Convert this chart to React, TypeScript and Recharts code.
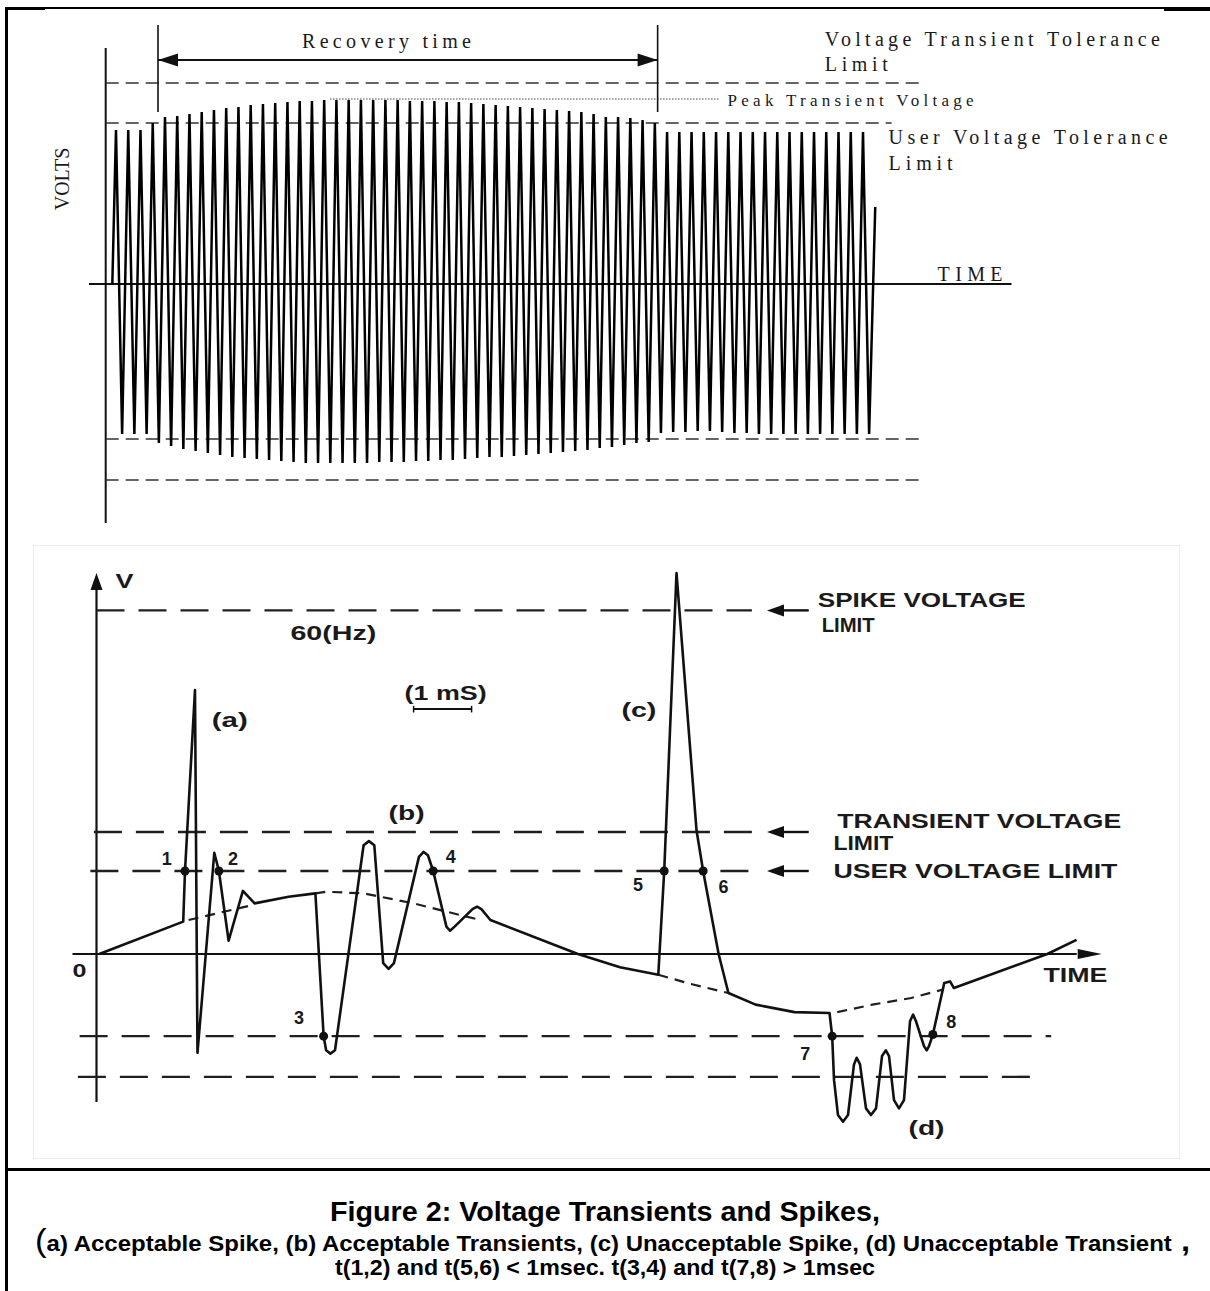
import React from 'react';
import { LineChart, Line, XAxis, YAxis, ReferenceLine, ReferenceDot } from 'recharts';

// ---------- upper sketch: supply waveform riding through a transient ----------
// volts are relative units (0 = time axis), time is counted in supply cycles
const peakVolts = [
  154, 154, 154, 161, 167, 168, 170, 172, 174, 176, 177, 179, 180, 181, 182, 183,
  183, 184, 184, 184, 184, 184, 184, 184, 183, 183, 183, 182, 182, 181, 180, 179,
  178, 177, 176, 175, 174, 173, 172, 170, 167, 167, 166, 164, 161, 152, 152, 152,
  152, 152, 152, 152, 152, 152, 152, 152, 152, 152, 152, 152, 152, 152,
];
const troughVolts = [
  -150, -150, -150, -159, -162, -165, -167, -169, -171, -173, -174, -175, -176, -177, -178, -179,
  -179, -179, -179, -179, -179, -178, -178, -178, -177, -177, -176, -176, -175, -174, -173, -173,
  -172, -171, -170, -169, -168, -167, -166, -164, -163, -161, -159, -158, -149, -148, -148, -147,
  -147, -148, -149, -149, -150, -150, -150, -150, -150, -150, -150, -150, -150, -150,
];
const waveStart = { t: -0.3, v: 0 };
const waveEnd = { t: 62.0, v: 77 };
const topLevels = { transient: 201, peak: 185, user: 161, lowUser: -155, lowTransient: -196 };
const recoveryCycles = [3.43, 44.23];

// ---------- lower sketch: spikes and transients ----------
// volts relative to the user voltage limit (= 1), time in ms
const trace: [number, number][] = [
  [0.048, 0], [1.495, 0.39], [1.526, 1.0], [1.698, 3.18], [1.741, -1.19], [2.031, 1.22], [2.11, 1.0],
  [2.278, 0.16], [2.524, 0.76], [2.726, 0.61], [3.312, 0.69], [3.774, 0.73], [3.916, -0.99],
  [3.959, -1.16], [4.033, -1.2], [4.112, -1.16], [4.605, 1.31], [4.697, 1.36], [4.79, 1.31],
  [4.943, -0.11], [5.036, -0.18], [5.128, -0.11], [5.559, 1.17], [5.64, 1.23], [5.714, 1.19],
  [5.805, 1.0], [6.033, 0.33], [6.095, 0.28], [6.174, 0.33], [6.483, 0.54], [6.562, 0.57],
  [6.636, 0.54], [6.791, 0.41], [8.3, 0], [9.026, -0.16], [9.686, -0.25], [9.788, 1.0],
  [10.0, 4.59], [10.345, 1.49], [10.459, 1.0], [10.726, 0], [10.895, -0.47], [11.364, -0.61],
  [12.034, -0.7], [12.638, -0.71], [12.684, -0.99], [12.716, -1.52], [12.784, -1.94], [12.871, -2.02],
  [12.957, -1.94], [13.06, -1.33], [13.107, -1.25], [13.164, -1.33], [13.267, -1.86], [13.353, -1.94],
  [13.44, -1.86], [13.543, -1.23], [13.61, -1.16], [13.664, -1.23], [13.75, -1.76], [13.836, -1.86],
  [13.922, -1.76], [14.026, -0.81], [14.079, -0.73], [14.129, -0.81], [14.267, -1.11], [14.314, -1.16],
  [14.353, -1.11], [14.42, -0.97], [14.616, -0.35], [14.716, -0.33], [14.783, -0.41], [16.393, 0],
  [16.897, 0.17],
];
const baselineA: [number, number][] = [[1.588, 0.41], [2.326, 0.53], [2.697, 0.59]];
const baselineB: [number, number][] = [[3.774, 0.73], [3.959, 0.75], [4.605, 0.73], [5.467, 0.61], [6.267, 0.47], [6.56, 0.42]];
const baselineC: [number, number][] = [[9.686, -0.25], [10.24, -0.36], [10.895, -0.47]];
const baselineD: [number, number][] = [[12.772, -0.7], [13.376, -0.61], [14.047, -0.53], [14.583, -0.43]];
const crossings: [number, number][] = [
  [1.526, 1.0], [2.11, 1.0], [3.916, -0.99], [5.805, 1.0], [9.788, 1.0], [10.459, 1.0], [12.684, -0.99], [14.42, -0.97],
];
const botLevels = { spike: 4.14, transient: 1.47, user: 1.0, lowUser: -0.99, lowTransient: -1.48 };

const toPts = (rows: [number, number][]) => rows.map(([t, v]) => ({ t, v }));

const wave: { t: number; v: number }[] = [waveStart];
peakVolts.forEach((p, i) => {
  wave.push({ t: i, v: p });
  wave.push({ t: i + 0.5, v: troughVolts[i] });
});
wave.push(waveEnd);

const SERIF = "'Liberation Serif', 'Times New Roman', serif";
const SANS = "'Liberation Sans', Arial, Helvetica, sans-serif";
const INK = '#111';

type Note = { t: number; v: number; text: string; size: number; width?: number; anchor?: 'start' | 'middle' | 'end'; rotate?: number };

const topNotes: Note[] = [
  { t: 15.19, v: 236, text: 'Recovery time', size: 20, width: 169 },
  { t: 57.88, v: 238, text: 'Voltage Transient Tolerance', size: 20, width: 335 },
  { t: 57.88, v: 213, text: 'Limit', size: 20, width: 63 },
  { t: 49.94, v: 178, text: 'Peak Transient Voltage', size: 17, width: 246 },
  { t: 63.09, v: 140, text: 'User Voltage Tolerance', size: 20, width: 279 },
  { t: 63.09, v: 114, text: 'Limit', size: 20, width: 64 },
  { t: 67.09, v: 3, text: 'TIME', size: 20, width: 65 },
  { t: -3.84, v: 105, text: 'VOLTS', size: 20, anchor: 'middle', rotate: -90 },
];

const botNotes: Note[] = [
  { t: 0.326, v: 4.41, text: 'V', size: 20, width: 18 },
  { t: 3.343, v: 3.783, text: '60(Hz)', size: 20, width: 86 },
  { t: 5.312, v: 3.06, text: '(1 mS)', size: 20, width: 82 },
  { t: 1.988, v: 2.735, text: '(a)', size: 20, width: 36 },
  { t: 5.036, v: 1.614, text: '(b)', size: 20, width: 36 },
  { t: 9.05, v: 2.855, text: '(c)', size: 20, width: 35 },
  { t: 14.0, v: -2.18, text: '(d)', size: 20, width: 36 },
  { t: -0.414, v: -0.277, text: '0', size: 19, width: 14 },
  { t: 16.326, v: -0.337, text: 'TIME', size: 21, width: 64 },
  { t: 12.436, v: 4.181, text: 'SPIKE VOLTAGE', size: 21, width: 208 },
  { t: 12.503, v: 3.88, text: 'LIMIT', size: 21, width: 53 },
  { t: 12.772, v: 1.518, text: 'TRANSIENT VOLTAGE', size: 21, width: 284 },
  { t: 12.705, v: 1.253, text: 'LIMIT', size: 21, width: 60 },
  { t: 12.705, v: 0.916, text: 'USER VOLTAGE LIMIT', size: 21, width: 284 },
  { t: 1.126, v: 1.072, text: '1', size: 18 },
  { t: 2.266, v: 1.072, text: '2', size: 18 },
  { t: 3.403, v: -0.843, text: '3', size: 18 },
  { t: 6.021, v: 1.096, text: '4', size: 18 },
  { t: 9.25, v: 0.759, text: '5', size: 18 },
  { t: 10.726, v: 0.735, text: '6', size: 18 },
  { t: 12.134, v: -1.277, text: '7', size: 18 },
  { t: 14.65, v: -0.892, text: '8', size: 18 },
];

const textShape = (n: Note, font: string, weight: number, adjust: 'spacing' | 'spacingAndGlyphs') => (p: any) => (
  <text
    x={p.cx}
    y={p.cy}
    fontFamily={font}
    fontWeight={weight}
    fontSize={n.size}
    fill="#1a1a1a"
    textAnchor={n.anchor ?? 'start'}
    textLength={n.width}
    lengthAdjust={n.width ? adjust : undefined}
    transform={n.rotate ? `rotate(${n.rotate} ${p.cx} ${p.cy})` : undefined}
  >
    {n.text}
  </text>
);

const head = (dir: 'left' | 'right' | 'up', len: number, half: number) => (p: any) => {
  const { cx, cy } = p;
  let d = '';
  if (dir === 'left') d = `M${cx},${cy}L${cx + len},${cy - half}L${cx + len},${cy + half}Z`;
  if (dir === 'right') d = `M${cx},${cy}L${cx - len},${cy - half}L${cx - len},${cy + half}Z`;
  if (dir === 'up') d = `M${cx},${cy}L${cx - half},${cy + len}L${cx + half},${cy + len}Z`;
  return <path d={d} fill={INK} />;
};

const seg = (x1: number, y1: number, x2: number, y2: number) => [{ x: x1, y: y1 }, { x: x2, y: y2 }];

function RecoveryChart() {
  const dash = { stroke: '#333', strokeWidth: 1.6, strokeDasharray: '13 7' };
  const axisStart = -0.841;
  return (
    <LineChart width={1210} height={540} data={wave} margin={{ top: 15, right: 20, bottom: 5, left: 20 }}>
      <XAxis type="number" dataKey="t" domain={[-7.839, 87.703]} hide allowDataOverflow />
      <YAxis type="number" domain={[-251, 269]} hide allowDataOverflow />

      <ReferenceLine segment={seg(axisStart, 236, axisStart, -239)} stroke={INK} strokeWidth={2} />
      <ReferenceLine segment={seg(-2.205, 0, 73.13, 0)} stroke={INK} strokeWidth={2} />
      <ReferenceLine segment={seg(axisStart, topLevels.transient, 65.82, topLevels.transient)} {...dash} />
      <ReferenceLine segment={seg(axisStart, topLevels.user, 63.34, topLevels.user)} {...dash} />
      <ReferenceLine segment={seg(axisStart, topLevels.lowUser, 65.74, topLevels.lowUser)} {...dash} />
      <ReferenceLine segment={seg(axisStart, topLevels.lowTransient, 65.74, topLevels.lowTransient)} {...dash} />
      <ReferenceLine segment={seg(17.48, topLevels.peak, 49.21, topLevels.peak)} stroke="#444" strokeWidth={1.2} strokeDasharray="1.5 1.5" />

      {/* recovery time marker */}
      {recoveryCycles.map((c) => (
        <ReferenceLine key={c} segment={seg(c, 259, c, 172)} stroke={INK} strokeWidth={1.6} />
      ))}
      <ReferenceLine segment={seg(recoveryCycles[0], 224, recoveryCycles[1], 224)} stroke={INK} strokeWidth={2} />
      <ReferenceDot x={recoveryCycles[0]} y={224} r={0} ifOverflow="visible" shape={head('left', 20, 6.5)} />
      <ReferenceDot x={recoveryCycles[1]} y={224} r={0} ifOverflow="visible" shape={head('right', 20, 6.5)} />

      <Line type="linear" dataKey="v" stroke="#000" strokeWidth={2.5} dot={false} activeDot={false} isAnimationActive={false} />

      {topNotes.map((n) => (
        <ReferenceDot key={n.text + n.v} x={n.t} y={n.v} r={0} ifOverflow="visible" shape={textShape(n, SERIF, 400, 'spacing')} />
      ))}
    </LineChart>
  );
}

function SpikeChart() {
  const limit = { stroke: '#1f1f1f', strokeWidth: 2.4, strokeDasharray: '28 14' };
  const base = { stroke: '#1f1f1f', strokeWidth: 2.2, strokeDasharray: '10 7' };
  const arrowTip = 11.56;
  const arrowTail = 12.28;
  const dashEnd = 11.3;
  return (
    <LineChart width={1210} height={620} margin={{ top: 10, right: 25, bottom: 10, left: 40 }}>
      <XAxis type="number" dataKey="t" domain={[-0.9741, 18.767]} hide allowDataOverflow />
      <YAxis type="number" dataKey="v" domain={[-2.3614, 4.8675]} hide allowDataOverflow />

      {/* axes */}
      <ReferenceLine segment={seg(0, -1.783, 0, 4.45)} stroke={INK} strokeWidth={2.2} />
      <ReferenceDot x={0} y={4.59} r={0} ifOverflow="visible" shape={head('up', 17, 6)} />
      <ReferenceLine segment={seg(-0.414, 0, 16.9, 0)} stroke={INK} strokeWidth={2.2} />
      <ReferenceDot x={17.331} y={0} r={0} ifOverflow="visible" shape={head('right', 24, 5)} />

      {/* limits */}
      <ReferenceLine segment={seg(0, botLevels.spike, dashEnd, botLevels.spike)} {...limit} />
      <ReferenceLine segment={seg(-0.045, botLevels.transient, dashEnd, botLevels.transient)} {...limit} />
      <ReferenceLine segment={seg(-0.105, botLevels.user, dashEnd, botLevels.user)} {...limit} />
      <ReferenceLine segment={seg(-0.291, botLevels.lowUser, 16.46, botLevels.lowUser)} {...limit} />
      <ReferenceLine segment={seg(-0.321, botLevels.lowTransient, 16.19, botLevels.lowTransient)} {...limit} />
      {[botLevels.spike, botLevels.transient, botLevels.user].map((lv) => (
        <React.Fragment key={lv}>
          <ReferenceLine segment={seg(arrowTip + 0.2, lv, arrowTail, lv)} stroke={INK} strokeWidth={2.4} />
          <ReferenceDot x={arrowTip} y={lv} r={0} ifOverflow="visible" shape={head('left', 17, 6)} />
        </React.Fragment>
      ))}

      {/* 1 ms scale bar */}
      <ReferenceLine segment={seg(5.467, 2.952, 6.467, 2.952)} stroke={INK} strokeWidth={2} />
      <ReferenceLine segment={seg(5.467, 2.91, 5.467, 2.99)} stroke={INK} strokeWidth={1.5} />
      <ReferenceLine segment={seg(6.467, 2.91, 6.467, 2.99)} stroke={INK} strokeWidth={1.5} />

      {[baselineA, baselineB, baselineC, baselineD].map((b, i) => (
        <Line key={i} data={toPts(b)} type="linear" dataKey="v" {...base} dot={false} activeDot={false} isAnimationActive={false} />
      ))}
      <Line data={toPts(trace)} type="linear" dataKey="v" stroke={INK} strokeWidth={2.6} strokeLinejoin="round" dot={false} activeDot={false} isAnimationActive={false} />
      <Line data={toPts(crossings)} dataKey="v" stroke="none" dot={{ r: 4.5, fill: INK, stroke: INK, strokeWidth: 0 }} activeDot={false} isAnimationActive={false} />

      {botNotes.map((n) => (
        <ReferenceDot key={n.text + n.t} x={n.t} y={n.v} r={0} ifOverflow="visible" shape={textShape(n, SANS, 700, 'spacingAndGlyphs')} />
      ))}
    </LineChart>
  );
}

export default function App() {
  const rule = (s: React.CSSProperties) => <div style={{ position: 'absolute', background: '#000', ...s }} />;
  return (
    <div style={{ position: 'absolute', left: 0, top: 0, width: 1210, height: 1291, background: '#fff', overflow: 'hidden' }}>
      {rule({ left: 5, top: 7, width: 1205, height: 1.5 })}
      {rule({ left: 5, top: 7, width: 40, height: 3 })}
      {rule({ left: 1164, top: 7.5, width: 46, height: 3 })}
      {rule({ left: 5, top: 7, width: 2.5, height: 1284 })}
      {rule({ left: 5, top: 1168, width: 1205, height: 2.5 })}
      <div style={{ position: 'absolute', left: 33, top: 545, width: 1145, height: 612, border: '1px solid #ececec' }} />

      <div style={{ position: 'absolute', left: 0, top: 0 }}>
        <RecoveryChart />
      </div>
      <div style={{ position: 'absolute', left: 0, top: 540 }}>
        <SpikeChart />
      </div>

      <svg width={1210} height={120} style={{ position: 'absolute', left: 0, top: 1171 }}>
        <g fontFamily={SANS} fontWeight={700} fill="#000">
          <text x={605} y={50} textAnchor="middle" fontSize={27} textLength={550} lengthAdjust="spacingAndGlyphs">
            Figure 2: Voltage Transients and Spikes,
          </text>
          <text x={35} y={80} fontSize={22} textLength={1155} lengthAdjust="spacingAndGlyphs">
            <tspan fontSize={32} fontWeight={400}>(</tspan>a) Acceptable Spike, (b) Acceptable Transients, (c) Unacceptable Spike, (d) Unacceptable Transient
            <tspan fontSize={30}> ,</tspan>
          </text>
          <text x={605} y={104} textAnchor="middle" fontSize={22} textLength={540} lengthAdjust="spacingAndGlyphs">
            t(1,2) and t(5,6) &lt; 1msec. t(3,4) and t(7,8) &gt; 1msec
          </text>
        </g>
      </svg>
    </div>
  );
}
